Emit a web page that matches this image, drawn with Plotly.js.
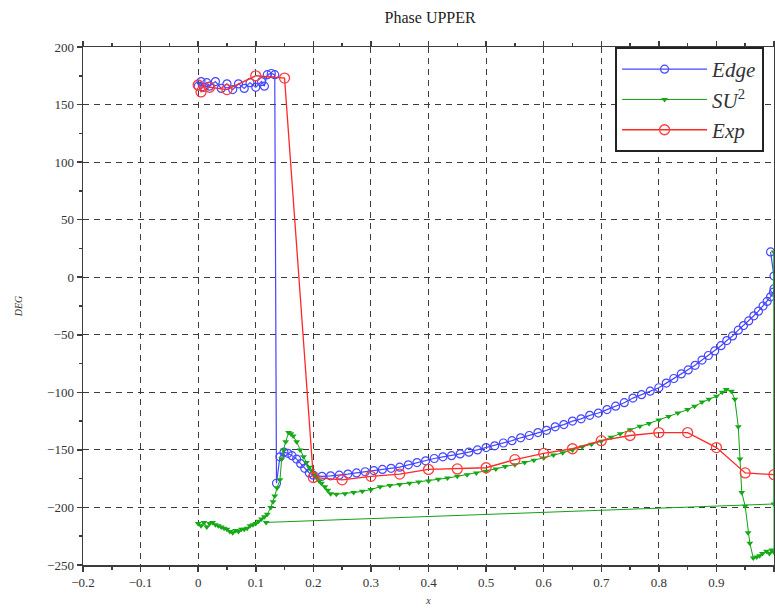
<!DOCTYPE html>
<html><head><meta charset="utf-8">
<script src="https://cdn.plot.ly/plotly-3.0.1.min.js"></script>
<style>html,body{margin:0;padding:0;background:#fff}#c{width:775px;height:614px}</style>
</head><body><div id="c"></div>
<script>
// Edge (blue circles)
const edgeX = [0,0.005,0.01,0.015,0.02,0.03,0.04,0.05,0.06,0.07,0.08,0.09,0.1,0.11,0.115,0.12,0.127,0.133,0.136,
  0.142,0.149,0.156,0.163,0.171,0.178,0.185,0.193,
  0.2,0.215,0.23,0.245,0.26,0.275,0.29,0.305,0.32,0.335,0.35,0.365,0.38,0.395,0.41,0.425,0.44,0.455,0.47,0.485,
  0.5,0.515,0.53,0.545,0.56,0.575,0.59,0.605,0.62,0.635,0.65,0.665,0.68,0.695,0.71,0.725,0.74,0.755,0.77,0.785,
  0.8,0.813,0.826,0.839,0.851,0.863,0.875,0.886,0.897,0.908,0.918,0.928,0.938,0.947,0.956,0.965,0.973,0.981,0.988,0.994,0.999,1.0,1.0,0.994];
const edgeY = [166,170,165,169,166,170,164,168,163,168,164,169,165,170,166,176,177,176,-179,
  -156,-152,-153,-155,-158,-162,-166,-170,
  -172,-173,-172.5,-172,-171,-170,-169,-168,-167,-166,-165,-163,-161,-159.5,-157.5,-156,-155,-153.5,-152,-150,
  -148,-146.5,-144,-142,-139.5,-137.5,-135,-133,-130,-128,-125,-123,-120,-118,-115,-112,-109,-105,-102,-99,
  -96,-92,-88,-84,-80.5,-76.5,-72,-68,-64,-59.5,-55,-51,-46,-42,-38,-33.5,-29.5,-25,-21,-17,-13,-10,1,22];

// SU2 (green triangles)
const su2X = [0,0.005,0.01,0.015,0.02,0.025,0.03,0.035,0.04,0.045,0.05,0.055,0.06,0.065,0.07,0.075,0.08,0.085,0.09,0.095,0.1,0.105,0.11,0.115,0.12,
  0.126,0.13,0.133,0.137,0.142,0.145,0.148,0.152,0.157,0.161,0.165,0.171,0.177,0.183,0.188,0.193,0.197,0.202,0.206,0.21,0.214,0.22,0.225,0.23,
  0.24,0.255,0.27,0.285,0.3,0.316,0.333,0.35,0.367,0.383,0.4,0.417,0.433,0.45,0.467,0.483,0.5,0.517,0.533,0.55,0.567,0.583,0.6,0.617,0.633,0.65,
  0.667,0.683,0.7,0.717,0.733,0.75,0.767,0.783,0.8,0.817,0.833,0.85,0.862,0.875,0.887,0.9,0.91,0.917,0.926,0.932,0.938,0.941,0.944,0.95,0.955,0.958,
  0.964,0.97,0.975,0.98,0.987,0.992,0.996,1.0,1.0,1.0,0.118];
const su2Y = [-214,-216,-213,-217,-214,-213,-215,-216,-217,-218,-219,-221,-222,-220,-221,-219,-219,-218,-216,-215,-214,-212,-210,-208,-206,
  -200,-195,-190,-183,-176,-158,-150,-143,-135,-136,-138,-143,-150,-156,-161,-165,-168,-171,-174,-177,-179,-182,-185,-188,
  -188.5,-188,-187,-186,-184.5,-182,-181,-180,-179,-178,-177,-175.5,-174.5,-173,-171.5,-170,-168.5,-166.5,-164.5,-163,-161,-159,-157,-154.5,-152.5,-150,
  -147.5,-145,-142.5,-139,-136,-132.5,-129.5,-127,-124,-121,-118,-115,-112,-108.5,-106,-103.5,-100,-97.5,-99,-106,-130,-158,-187,-199,-222,-231,
  -244,-243,-242,-240,-238,-240,-237,-239,22,-197,-213];

// Exp (red circles)
const expX = [0,0.005,0.02,0.05,0.1,0.15,0.2,0.25,0.3,0.35,0.4,0.45,0.5,0.55,0.6,0.65,0.7,0.75,0.8,0.85,0.9,0.95,1.0];
const expY = [167,161,165,163,175,173,-174,-176,-173,-171,-167,-166.5,-165.5,-158.5,-153,-149,-142,-137.5,-135,-135,-148,-170,-171.5];

const serif = 'Liberation Serif, Times New Roman, serif';
const traces = [
  {x: edgeX, y: edgeY, name: '<i>Edge</i>', mode: 'lines+markers',
   line: {color: 'rgb(70,70,255)', width: 1.2},
   marker: {symbol: 'circle-open', size: 8, color: 'rgb(70,70,255)', line: {width: 1.2}}},
  {x: su2X, y: su2Y, name: '<i>SU</i><sup>2</sup>', mode: 'lines+markers',
   line: {color: 'rgb(20,160,20)', width: 1},
   marker: {symbol: 'triangle-down', size: 6, color: 'rgb(20,170,20)'}},
  {x: expX, y: expY, name: '<i>Exp</i>', mode: 'lines+markers',
   line: {color: 'rgb(255,40,40)', width: 1.3},
   marker: {symbol: 'circle-open', size: 10, color: 'rgb(255,60,60)', line: {width: 1.3}}}
];

const axisCommon = {
  showgrid: true, gridcolor: 'rgb(60,60,60)', griddash: '6px,5px', gridwidth: 1,
  zeroline: false, showline: true, linecolor: 'rgb(60,60,60)', linewidth: 1.5, mirror: 'ticks',
  ticks: 'outside', ticklen: 5, tickcolor: 'rgb(60,60,60)', tickwidth: 1.5,
  tickfont: {family: serif, size: 13, color: '#333'},
  minor: {ticks: 'outside', ticklen: 3, tickcolor: 'rgb(60,60,60)', showgrid: false}
};

const layout = {
  width: 775, height: 614,
  margin: {l: 83, r: 1, t: 47, b: 49},
  paper_bgcolor: '#fff', plot_bgcolor: '#fff',
  title: {text: 'Phase UPPER', font: {family: serif, size: 16, color: '#222'}, x: 0.555, xanchor: 'center', y: 0.972, yanchor: 'middle'},
  xaxis: Object.assign({}, axisCommon, {range: [-0.2, 1], tickmode: 'linear', tick0: -0.2, dtick: 0.1,
    minor: Object.assign({}, axisCommon.minor, {dtick: 0.05}),
    title: {text: '<i>x</i>', font: {family: serif, size: 10, color: '#333'}, standoff: 8}}),
  yaxis: Object.assign({}, axisCommon, {range: [-250, 200], tickmode: 'linear', tick0: -250, dtick: 50,
    minor: Object.assign({}, axisCommon.minor, {dtick: 25}),
    title: {text: '<i>DEG</i>', font: {family: serif, size: 10, color: '#333'}, standoff: 22}}),
  showlegend: true,
  legend: {x: 0.77, y: 1, xanchor: 'left', yanchor: 'top', bgcolor: '#fff',
    bordercolor: '#222', borderwidth: 2, itemwidth: 85, entrywidth: 150,
    font: {family: serif, size: 21, color: '#333'}, tracegroupgap: 0}
};

Plotly.newPlot('c', traces, layout, {displayModeBar: false, staticPlot: true});
</script></body></html>
